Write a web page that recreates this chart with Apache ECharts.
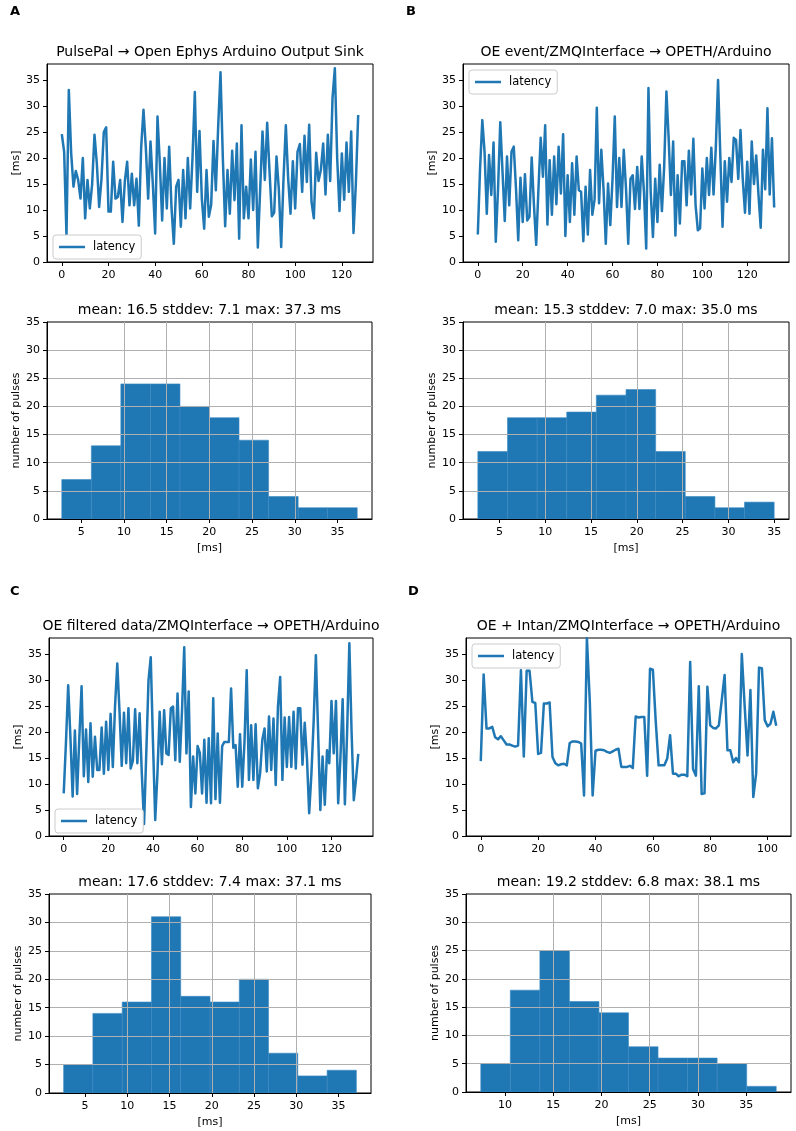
<!DOCTYPE html>
<html><head><meta charset="utf-8">
<script src="https://cdn.jsdelivr.net/npm/echarts@6/dist/echarts.min.js"></script>
<style>html,body{margin:0;padding:0;background:#fff}#c{width:796px;height:1131px}</style>
</head><body><div id="c"></div>
<script>
// ---------------- DATA ----------------
const latencyA = [24.6, 21.2, 5.1, 33.1, 21, 14.5, 17.5, 15.8, 12.2, 20, 8.4, 15.8, 10.3, 15, 24.5, 19, 10.6, 16, 25, 25.9,
  9.7, 9.7, 19.3, 12.2, 12.5, 15.8, 7.7, 15.5, 19.3, 10.9, 17, 10.9, 16, 7, 22, 29.3, 22, 12.2, 23.2, 15,
  5.5, 28, 19, 8, 20, 10.3, 22.2, 10.5, 3.5, 14.5, 15.8, 6.8, 17.7, 8.4, 20, 10.3, 20, 32.7, 13.5,
  25.2, 12.2, 6.4, 17.7, 8.7, 11, 23.3, 13.8, 26, 36.5, 20, 6.9, 17.7, 9.3, 21.4, 11.9, 22.8, 4.5, 26.3, 8.4,
  14.5, 8.4, 19.7, 10, 21.2, 2.8, 14, 25.1, 15.8, 26.8, 17.5, 8.8, 9.5, 20.3, 14, 2.9, 16, 26.3, 16, 9.3,
  19.4, 10.3, 21.2, 22.7, 13.5, 24.3, 15.4, 26.4, 11.6, 8.4, 21, 15.6, 17.7, 22.8, 13, 24.5, 15.6, 31.5, 37.3, 20,
  9.8, 20.9, 12, 23, 13.5, 25.1, 5.6, 15, 28.3];
const latencyB = [5.3, 18, 27.3, 21.2, 9.3, 20.6, 12.9, 23, 3.9, 14, 26.9, 17.4, 7.9, 20.3, 10.9, 21.2, 22.2, 14.2, 4.2, 16.2,
  7.7, 16.9, 8, 8.7, 20.1, 11, 3.3, 14, 23.9, 16.4, 26.3, 7.2, 19.6, 9.1, 20.3, 11.1, 22.2, 13.2, 24.6, 5,
  16.7, 7.7, 19, 9.1, 20.3, 13.8, 13.5, 4, 14.5, 5.3, 17.7, 9.1, 12, 29.7, 11.3, 21.6, 14, 3.5, 15.1,
  7.1, 16, 28, 10.6, 20, 10.6, 21.6, 14.2, 3.5, 16, 16.7, 10.2, 18.3, 10.2, 20.3, 13.5, 2.6, 33.5, 13.5, 4.8,
  16, 7.7, 18.7, 9.8, 18.3, 32.8, 23.8, 12.9, 23.2, 5.1, 16.7, 7.4, 19.4, 19.4, 10.9, 21.4, 13, 23.7, 10.9, 6.1,
  6.5, 18, 10.3, 20, 12.9, 22, 13, 22, 35.0, 20.6, 6.8, 19.4, 11.6, 20, 15.4, 23.9, 23.5, 16, 25.4, 16,
  9.5, 19.3, 9.3, 23.2, 15, 20.5, 13, 6.6, 21.6, 14, 29.6, 13, 23.8, 10.5];
const latencyC = [8.2, 18, 29, 19, 7.6, 20.3, 8.1, 19, 28.8, 11.5, 20.5, 10.4, 21.7, 11.4, 19.1, 12.7, 12.7, 20.9, 12, 22,
  12.7, 23.5, 13.3, 25, 33.2, 24, 13.5, 23.7, 14, 24.6, 13, 14.5, 24.4, 14, 23.6, 12, 2.3, 16, 30, 34.4,
  18, 3.1, 12, 23.9, 13.8, 24.2, 15.9, 15.6, 24.6, 24.9, 14.6, 27.4, 14.3, 24, 36.3, 15.9, 27.8, 5.6, 15.3, 8.2,
  17.3, 16, 8.2, 18.5, 6.4, 18.8, 6.3, 26.5, 7.1, 19.7, 6.4, 17.3, 18.1, 18.1, 18.1, 28.4, 17, 17.5, 9.5, 19.6,
  9.5, 18, 31.9, 10.8, 21.3, 10.8, 21.5, 9.2, 12, 18.5, 20.7, 12.4, 23, 12.7, 22.6, 9.8, 24.9, 30.6, 10.8, 22.8,
  13.3, 22.9, 13.3, 23.9, 13, 24.6, 24.6, 13.7, 21.8, 15, 4.4, 12, 22, 34.8, 20, 5, 15.3, 6, 16.5, 14,
  26, 15.9, 26, 6.3, 15, 26.3, 6.1, 20, 37.1, 20, 6.9, 11, 15.8];
const latencyD = [14.4, 31.1, 20.7, 20.7, 21, 19, 18.6, 19.2, 18.4, 17.6, 17.6, 17.4, 17.2, 17.4, 31.9, 15.3, 31.8, 31.8, 25.8, 25.6,
  15.8, 16, 25.5, 25.5, 25.7, 15.2, 14, 13.6, 13.8, 13.9, 13.6, 17.9, 18.2, 18.2, 18.1, 17.8, 7.8, 38.1, 26, 7.8,
  16.4, 16.6, 16.6, 16.5, 16.2, 16, 16.3, 16.6, 16.8, 13.3, 13.3, 13.3, 13.5, 13.1, 23, 22.8, 22.9, 22.9, 11.6, 32.2,
  32, 22, 13.6, 13.6, 13.6, 14.9, 19.4, 12, 12, 11.5, 11.8, 11.8, 11.5, 33.5, 12.9, 11.6, 28.8, 8.1, 8.2, 28.7,
  21.3, 20.8, 20.7, 21.3, 26.1, 31, 16.5, 16.5, 14.2, 15, 14.2, 35, 25, 15.5, 28.1, 7.5, 12, 32.4, 32.3, 22.3,
  21.1, 21.6, 23.9, 21.2];

const histEdgesA = [2.73, 6.19, 9.64, 13.10, 16.56, 20.02, 23.47, 26.93, 30.39, 33.84, 37.30];
const histCountsA = [7, 13, 24, 24, 20, 18, 14, 4, 2, 2];
const histEdgesB = [2.64, 5.88, 9.11, 12.35, 15.58, 18.82, 22.06, 25.29, 28.53, 31.76, 35.00];
const histCountsB = [12, 18, 18, 19, 22, 23, 12, 4, 2, 3];
const histEdgesC = [2.47, 5.93, 9.40, 12.86, 16.32, 19.79, 23.25, 26.71, 30.17, 33.64, 37.10];
const histCountsC = [5, 14, 16, 31, 17, 16, 20, 7, 3, 4];
const histEdgesD = [7.50, 10.56, 13.62, 16.68, 19.74, 22.80, 25.86, 28.92, 31.98, 35.04, 38.10];
const histCountsD = [5, 18, 25, 16, 14, 8, 6, 6, 5, 1];

const panelLetters = ['A', 'B', 'C', 'D'];
const lineTitles = [
  'PulsePal \u2192 Open Ephys Arduino Output Sink',
  'OE event/ZMQInterface \u2192 OPETH/Arduino',
  'OE filtered data/ZMQInterface \u2192 OPETH/Arduino',
  'OE + Intan/ZMQInterface \u2192 OPETH/Arduino'
];
const histTitles = [
  'mean: 16.5 stddev: 7.1 max: 37.3 ms',
  'mean: 15.3 stddev: 7.0 max: 35.0 ms',
  'mean: 17.6 stddev: 7.4 max: 37.1 ms',
  'mean: 19.2 stddev: 6.8 max: 38.1 ms'
];
const seriesName = 'latency';
const lineYName = '[ms]';
const histYName = 'number of pulses';
const histXName = '[ms]';
const lineYTicks = [0, 5, 10, 15, 20, 25, 30, 35];
const lineXTicksA = [0, 20, 40, 60, 80, 100, 120];
const lineXTicksB = [0, 20, 40, 60, 80, 100, 120];
const lineXTicksC = [0, 20, 40, 60, 80, 100, 120];
const lineXTicksD = [0, 20, 40, 60, 80, 100];
const histXTicksA = [5, 10, 15, 20, 25, 30, 35];
const histXTicksB = [5, 10, 15, 20, 25, 30, 35];
const histXTicksC = [5, 10, 15, 20, 25, 30, 35];
const histXTicksD = [10, 15, 20, 25, 30, 35];

// ---------------- LAYOUT / STYLE ----------------
const FONT = 'DejaVu Sans';
const BLUE = '#1f77b4';
const panels = [
  { lat: latencyA, xt: lineXTicksA, edges: histEdgesA, counts: histCountsA, hxt: histXTicksA,
    line: { l: 47, r: 373, t: 64, b: 262, min: -6.35, max: 133.35 },
    hist: { l: 47, r: 372, t: 322, b: 519, min: 1.0, max: 39.03 },
    legend: { left: 53, top: 235 }, letter: { left: 10, top: 5 } },
  { lat: latencyB, xt: lineXTicksB, edges: histEdgesB, counts: histCountsB, hxt: histXTicksB,
    line: { l: 463, r: 789, t: 64, b: 262, min: -6.6, max: 138.6 },
    hist: { l: 463, r: 789, t: 322, b: 519, min: 1.02, max: 36.62 },
    legend: { left: 469, top: 70 }, letter: { left: 406, top: 5 } },
  { lat: latencyC, xt: lineXTicksC, edges: histEdgesC, counts: histCountsC, hxt: histXTicksC,
    line: { l: 49, r: 373, t: 638, b: 836, min: -6.6, max: 138.6 },
    hist: { l: 49, r: 371, t: 894, b: 1093, min: 0.74, max: 38.83 },
    legend: { left: 55, top: 809 }, letter: { left: 10, top: 585 } },
  { lat: latencyD, xt: lineXTicksD, edges: histEdgesD, counts: histCountsD, hxt: histXTicksD,
    line: { l: 466, r: 791, t: 638, b: 836, min: -5.15, max: 108.15 },
    hist: { l: 466, r: 791, t: 894, b: 1092, min: 5.97, max: 39.63 },
    legend: { left: 472, top: 644 }, letter: { left: 408, top: 585 } }
];

const grid = [], xAxis = [], yAxis = [], series = [], title = [], legend = [];
const axisText = { color: '#000', fontSize: 11, fontFamily: FONT };

function addGrid(g) {
  grid.push({ left: g.l, top: g.t, width: g.r - g.l, height: g.b - g.t, show: true,
    borderColor: '#000', borderWidth: 1, backgroundColor: 'transparent', containLabel: false });
  return grid.length - 1;
}

panels.forEach((p, k) => {
  // ---- line panel ----
  const gi = addGrid(p.line);
  xAxis.push({ type: 'value', gridIndex: gi, min: p.line.min, max: p.line.max, z: 3,
    axisLine: { show: true, onZero: false, lineStyle: { color: '#000', width: 1 } },
    axisTick: { show: true, length: 4, customValues: p.xt, lineStyle: { color: '#000' } },
    axisLabel: Object.assign({ customValues: p.xt, margin: 8 }, axisText),
    splitLine: { show: false } });
  yAxis.push({ type: 'value', gridIndex: gi, min: 0, max: 38.1, z: 3,
    name: lineYName, nameLocation: 'middle', nameGap: 25,
    nameTextStyle: { color: '#000', fontSize: 11, fontFamily: FONT },
    axisLine: { show: true, onZero: false, lineStyle: { color: '#000', width: 1 } },
    axisTick: { show: true, length: 4, customValues: lineYTicks, lineStyle: { color: '#000' } },
    axisLabel: Object.assign({ customValues: lineYTicks, margin: 7 }, axisText),
    splitLine: { show: false } });
  series.push({ type: 'line', name: seriesName, xAxisIndex: gi, yAxisIndex: gi,
    data: p.lat.map((v, i) => [i, v]), symbol: 'none', animation: false,
    lineStyle: { color: BLUE, width: 2.5, join: 'round' }, itemStyle: { color: BLUE }, z: 2 });
  title.push({ text: lineTitles[k], left: (p.line.l + p.line.r) / 2, top: p.line.t - 19,
    textAlign: 'center', padding: 0,
    textStyle: { fontSize: 14, fontWeight: 'normal', color: '#000', fontFamily: FONT } });
  legend.push({ data: [{ name: seriesName, icon: 'rect' }], left: p.legend.left, top: p.legend.top,
    padding: [6, 6, 6, 6], itemWidth: 26, itemHeight: 2.5, selectedMode: false,
    backgroundColor: '#ffffff', borderColor: '#cccccc', borderWidth: 1, borderRadius: 3,
    itemStyle: { color: BLUE, borderWidth: 0 },
    textStyle: { fontSize: 11.5, color: '#000', fontFamily: FONT, padding: [0, 0, 0, 3] } });
  title.push({ text: panelLetters[k], left: p.letter.left, top: p.letter.top, padding: 0,
    textStyle: { fontSize: 13, fontWeight: 'bold', color: '#000', fontFamily: FONT } });

  // ---- histogram panel ----
  const hi = addGrid(p.hist);
  xAxis.push({ type: 'value', gridIndex: hi, min: p.hist.min, max: p.hist.max, z: 3,
    name: histXName, nameLocation: 'middle', nameGap: 24,
    nameTextStyle: { color: '#000', fontSize: 11, fontFamily: FONT },
    axisLine: { show: true, onZero: false, lineStyle: { color: '#000', width: 1 } },
    axisTick: { show: true, length: 4, customValues: p.hxt, lineStyle: { color: '#000' } },
    axisLabel: Object.assign({ customValues: p.hxt, margin: 8 }, axisText),
    splitLine: { show: true, showMinLine: false, showMaxLine: false, lineStyle: { color: '#b0b0b0', width: 1 } } });
  yAxis.push({ type: 'value', gridIndex: hi, min: 0, max: 35, interval: 5, z: 3,
    name: histYName, nameLocation: 'middle', nameGap: 25,
    nameTextStyle: { color: '#000', fontSize: 11, fontFamily: FONT },
    axisLine: { show: true, onZero: false, lineStyle: { color: '#000', width: 1 } },
    axisTick: { show: true, length: 4, lineStyle: { color: '#000' } },
    axisLabel: Object.assign({ margin: 7 }, axisText),
    splitLine: { show: true, showMinLine: false, showMaxLine: false, lineStyle: { color: '#b0b0b0', width: 1 } } });
  series.push({ type: 'custom', name: 'hist' + k, xAxisIndex: hi, yAxisIndex: hi, animation: false, z: 2,
    data: p.counts.map((c, j) => [p.edges[j], p.edges[j + 1], c]),
    encode: { x: [0, 1], y: 2 },
    renderItem: (params, api) => {
      const a = api.coord([api.value(0), api.value(2)]);
      const b = api.coord([api.value(1), 0]);
      return { type: 'rect', shape: { x: a[0], y: a[1], width: b[0] - a[0], height: b[1] - a[1] },
        style: { fill: BLUE, stroke: '#3a8ac2', lineWidth: 0.6 } };
    } });
  title.push({ text: histTitles[k], left: (p.hist.l + p.hist.r) / 2, top: p.hist.t - 19,
    textAlign: 'center', padding: 0,
    textStyle: { fontSize: 14, fontWeight: 'normal', color: '#000', fontFamily: FONT } });
});

const chart = echarts.init(document.getElementById('c'), null, { renderer: 'canvas' });
chart.setOption({ animation: false, backgroundColor: '#fff', textStyle: { fontFamily: FONT },
  title, legend, grid, xAxis, yAxis, series });
</script></body></html>
